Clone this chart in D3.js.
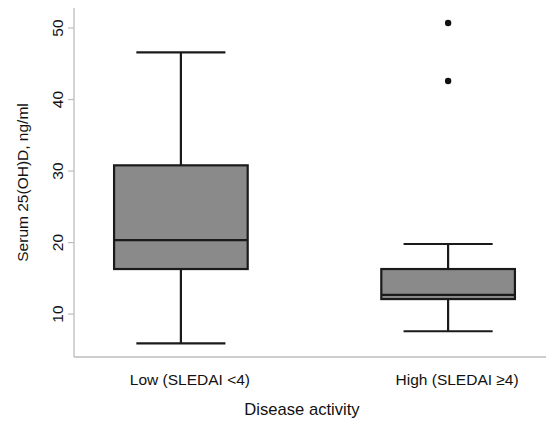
<!DOCTYPE html>
<html>
<head>
<meta charset="utf-8">
<script src="https://cdn.jsdelivr.net/npm/d3@7.9.0/dist/d3.min.js"></script>
<style>
  body { margin: 0; background: #fff; }
  svg { display: block; font-family: "Liberation Sans", Arial, sans-serif; }
</style>
</head>
<body>
<svg id="chart" width="546" height="421"></svg>
<script>
// values
const groups = ['Low (SLEDAI <4)', 'High (SLEDAI \u22654)'];
const whiskerLow = [5.9, 7.6];
const q1 = [16.3, 12.1];
const medians = [20.35, 12.7];
const q3 = [30.8, 16.3];
const whiskerHigh = [46.6, 19.8];
const outliers = [[], [42.6, 50.7]];
const yTicks = [10, 20, 30, 40, 50];

const svg = d3.select('#chart');

const x = d3.scalePoint().domain(groups).range([74, 555]).padding(0.4);
const y = d3.scaleLinear().domain([4, 52.8]).range([357, 8]);

const step = x.step();
const boxW = step * 0.5;
const capW = step / 3;

// axes lines
svg.append('line')
  .attr('x1', 74).attr('x2', 74)
  .attr('y1', y(52.8)).attr('y2', y(4))
  .attr('stroke', '#bdbdbd').attr('stroke-width', 1.3);
svg.append('line')
  .attr('x1', 74).attr('x2', 546)
  .attr('y1', y(4)).attr('y2', y(4))
  .attr('stroke', '#bdbdbd').attr('stroke-width', 1.3);

// y ticks
yTicks.forEach((t) => {
  svg.append('line')
    .attr('x1', 68).attr('x2', 74)
    .attr('y1', y(t)).attr('y2', y(t))
    .attr('stroke', '#bdbdbd').attr('stroke-width', 1.2);
  svg.append('text')
    .attr('transform', `translate(63,${y(t)}) rotate(-90)`)
    .attr('text-anchor', 'middle')
    .attr('font-size', 15.5)
    .attr('fill', '#111')
    .text(t);
});

// x tick labels (sit a little right of the box centres in the original)
groups.forEach((g) => {
  svg.append('text')
    .attr('x', x(g) + 9).attr('y', 385)
    .attr('text-anchor', 'middle')
    .attr('font-size', 15.5)
    .attr('fill', '#111')
    .text(g);
});

// axis titles
svg.append('text')
  .attr('x', 302).attr('y', 415)
  .attr('text-anchor', 'middle')
  .attr('font-size', 16.6)
  .attr('fill', '#111')
  .text('Disease activity');
svg.append('text')
  .attr('transform', `translate(28,${(y(52.8) + y(4)) / 2}) rotate(-90)`)
  .attr('text-anchor', 'middle')
  .attr('font-size', 15.5)
  .attr('fill', '#111')
  .text('Serum 25(OH)D, ng/ml');

// boxes
groups.forEach((g, i) => {
  const cx = x(g);
  const gEl = svg.append('g').attr('stroke', '#1a1a1a').attr('stroke-width', 2.2);
  // whiskers
  gEl.append('line').attr('x1', cx).attr('x2', cx)
    .attr('y1', y(whiskerHigh[i])).attr('y2', y(q3[i]));
  gEl.append('line').attr('x1', cx).attr('x2', cx)
    .attr('y1', y(q1[i])).attr('y2', y(whiskerLow[i]));
  gEl.append('line').attr('x1', cx - capW / 2).attr('x2', cx + capW / 2)
    .attr('y1', y(whiskerHigh[i])).attr('y2', y(whiskerHigh[i]));
  gEl.append('line').attr('x1', cx - capW / 2).attr('x2', cx + capW / 2)
    .attr('y1', y(whiskerLow[i])).attr('y2', y(whiskerLow[i]));
  // box
  gEl.append('rect')
    .attr('x', cx - boxW / 2).attr('width', boxW)
    .attr('y', y(q3[i])).attr('height', y(q1[i]) - y(q3[i]))
    .attr('fill', '#8a8a8a');
  gEl.append('line').attr('x1', cx - boxW / 2).attr('x2', cx + boxW / 2)
    .attr('y1', y(medians[i])).attr('y2', y(medians[i]));
  // outliers
  outliers[i].forEach((o) => {
    svg.append('circle')
      .attr('cx', cx).attr('cy', y(o)).attr('r', 3.2)
      .attr('fill', '#111');
  });
});
</script>
</body>
</html>
